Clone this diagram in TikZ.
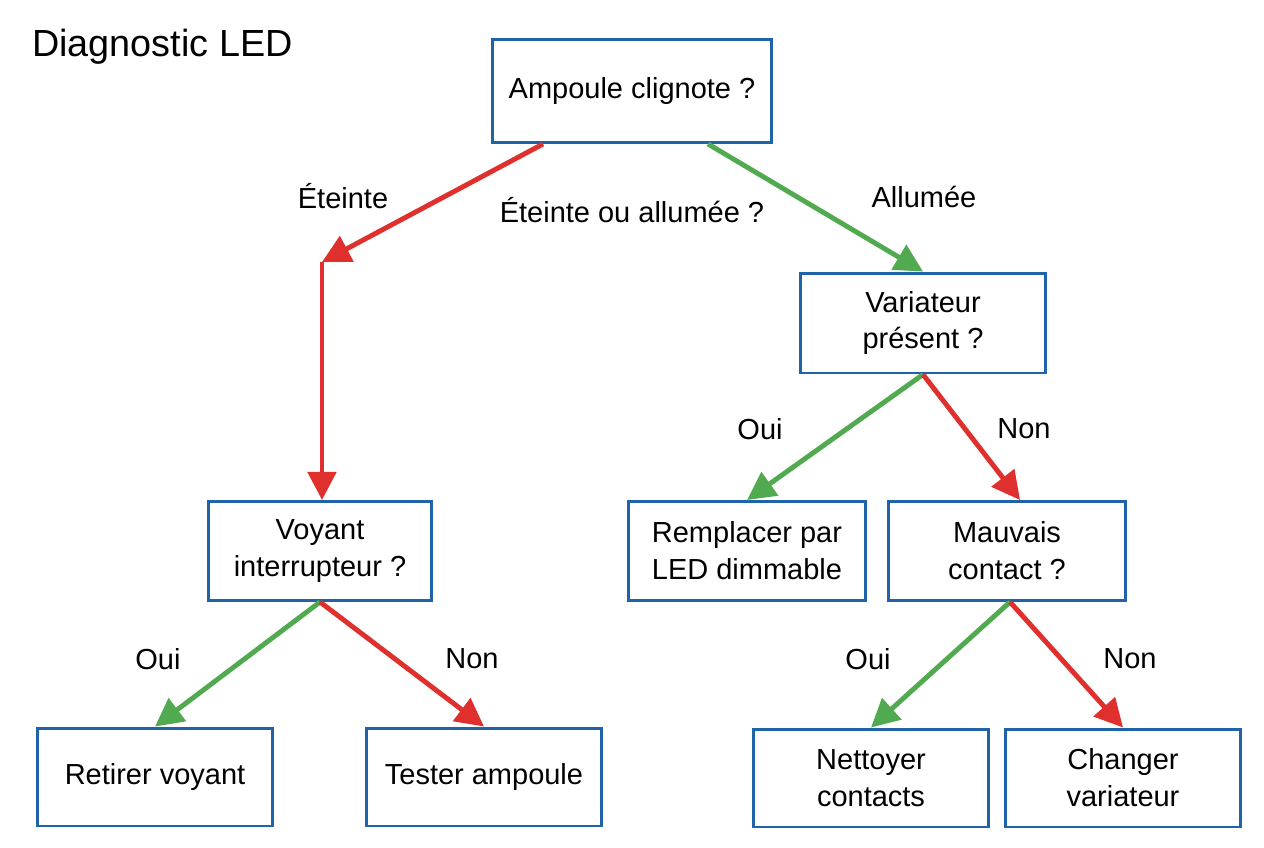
\documentclass[tikz,border=0pt]{standalone}
\usepackage{xcolor}
\usepackage{fontspec}
\setmainfont{Liberation Sans}
\usepackage{tikz}
\usetikzlibrary{arrows.meta}

\definecolor{boxblue}{HTML}{1F63A8}
\definecolor{nored}{HTML}{E0302E}
\definecolor{yesgreen}{HTML}{52AA50}

\begin{document}
\begin{tikzpicture}[x=0.02cm, y=-0.02cm,
        >={Triangle[length=16pt,width=16pt]},
        every node/.style={font=\fontsize{16.5}{21}\selectfont},
        qbox/.style={draw=boxblue, line width=1.7pt, fill=white, align=center,
            rectangle, inner sep=2pt},
        yes/.style={->, draw=yesgreen, line width=2.8pt},
        no/.style={->, draw=nored, line width=2.8pt}]
        \useasboundingbox (0,0) rectangle (1264,848);

        \node[anchor=west, font=\fontsize{21.5}{24}\selectfont] (title) at (26,47) {Diagnostic LED};

        \node[qbox, minimum width=5.6cm, minimum height=2.06cm] (clign) at (632,91) {Ampoule clignote ?};
        \node[qbox, minimum width=4.92cm, minimum height=2cm] (var) at (923,323) {Variateur\\présent ?};
        \node[qbox, minimum width=4.46cm, minimum height=1.98cm] (voy) at (320,551) {Voyant\\interrupteur ?};
        \node[qbox, minimum width=4.74cm, minimum height=1.98cm] (rempl) at (747,551) {Remplacer par\\LED dimmable};
        \node[qbox, minimum width=4.74cm, minimum height=1.98cm] (mauv) at (1007,551) {Mauvais\\contact ?};
        \node[qbox, minimum width=4.7cm, minimum height=1.96cm] (retir) at (155,777) {Retirer voyant};
        \node[qbox, minimum width=4.7cm, minimum height=1.96cm] (test) at (484,777) {Tester ampoule};
        \node[qbox, minimum width=4.7cm, minimum height=1.96cm] (nett) at (871,778) {Nettoyer\\contacts};
        \node[qbox, minimum width=4.7cm, minimum height=1.96cm] (chang) at (1123,778) {Changer\\variateur};

        \coordinate (coude) at (322,262);

        % branches
        \draw[no] ([xshift=-1.78cm]clign.south) -- (coude);
        \draw[no] (coude) -- (voy.north -| coude);
        \draw[yes] ([xshift=1.52cm]clign.south) -- (var.north);
        \draw[yes] (var.south) -- (rempl.north);
        \draw[no] (var.south) -- ([xshift=0.26cm]mauv.north);
        \draw[yes] (voy.south) -- (retir.north);
        \draw[no] (voy.south) -- (test.north);
        \draw[yes] ([xshift=0.06cm]mauv.south) -- (nett.north);
        \draw[no] ([xshift=0.06cm]mauv.south) -- (chang.north);

        % labels
        \node (l-et) at (343,196) {Éteinte};
        \node (l-q) at (632,210) {Éteinte ou allumée ?};
        \node (l-al) at (924,197) {Allumée};
        \node (l-oui1) at (760,429) {Oui};
        \node (l-non1) at (1024,429) {Non};
        \node (l-oui2) at (158,659) {Oui};
        \node (l-non2) at (472,659) {Non};
        \node (l-oui3) at (868,659) {Oui};
        \node (l-non3) at (1130,659) {Non};
    \end{tikzpicture}
\end{document}
